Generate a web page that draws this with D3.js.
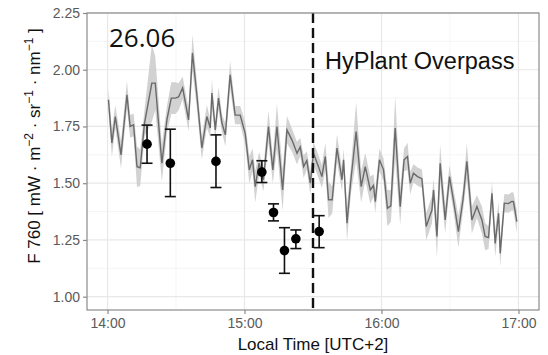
<!DOCTYPE html>
<html>
<head>
<meta charset="utf-8">
<script src="https://cdn.jsdelivr.net/npm/d3@7"></script>
<style>
  body { margin: 0; background: #fff; }
  svg { display: block; font-family: "Liberation Sans", Arial, sans-serif; }
</style>
</head>
<body>
<svg id="chart" width="548" height="355"></svg>
<script>
// minutes after 14:00 for the continuous F760 series
const minutes = [0.4, 1.9, 3.4, 5.9, 8.5, 9.9, 11.4, 12.9, 14.3, 16.2, 19.4, 20.9, 23.8, 26.0, 27.9, 29.7,
  31.1, 32.9, 35.5, 37.2, 39.2, 41.3, 43.5, 45.0, 45.7, 47.2, 48.6, 50.1, 51.6, 53.7, 55.9, 58.1,
  60.3, 62.1, 63.5, 64.7, 66.4, 68.3, 70.5, 72.4, 74.2, 76.7, 78.6, 80.8, 83.0, 84.4, 85.9, 87.3,
  88.8, 90.2, 92.4, 93.9, 95.4, 96.8, 98.4, 100.5, 102.7, 103.4, 104.9, 106.6, 108.9, 111.1, 112.9,
  115.1, 116.5, 117.3, 119.1, 120.9, 122.6, 124.1, 126.0, 128.2, 129.9, 131.4, 132.6, 134.0, 135.8,
  137.7, 139.6, 142.1, 142.8, 144.3, 145.7, 147.9, 149.8, 151.5, 153.7, 155.7, 157.4, 159.6, 161.8,
  164.0, 165.4, 166.9, 168.4, 169.8, 171.3, 172.0, 173.8, 175.6, 177.1, 177.8, 179.3];
const f760 = [1.868, 1.677, 1.794, 1.625, 1.89, 1.75, 1.757, 1.573, 1.568, 1.765, 1.941, 1.941, 1.588, 1.779, 1.875, 1.875,
  1.88, 1.92, 1.779, 2.074, 1.882, 1.655, 1.794, 1.743, 1.897, 1.735, 1.875, 1.765, 1.713, 1.978, 1.80, 1.80,
  1.72, 1.559, 1.603, 1.485, 1.588, 1.515, 1.75, 1.559, 1.75, 1.47, 1.735, 1.69, 1.632, 1.66, 1.573, 1.60,
  1.50, 1.632, 1.573, 1.529, 1.618, 1.427, 1.427, 1.655, 1.515, 1.603, 1.324, 1.515, 1.728, 1.485, 1.573,
  1.47, 1.49, 1.419, 1.603, 1.559, 1.39, 1.40, 1.743, 1.397, 1.603, 1.618, 1.50, 1.544, 1.529,
  1.52, 1.309, 1.382, 1.47, 1.265, 1.588, 1.338, 1.529, 1.427, 1.287, 1.427, 1.596, 1.338, 1.397,
  1.338, 1.265, 1.26, 1.456, 1.235, 1.368, 1.191, 1.412, 1.41, 1.42, 1.419, 1.331];
// half width of the grey band
const spread = [0.05, 0.06, 0.05, 0.06, 0.06, 0.05, 0.05, 0.09, 0.08, 0.06, 0.17, 0.12, 0.08, 0.06, 0.07, 0.07,
  0.06, 0.05, 0.05, 0.08, 0.06, 0.05, 0.05, 0.04, 0.06, 0.04, 0.05, 0.04, 0.05, 0.06, 0.04, 0.04,
  0.05, 0.06, 0.05, 0.07, 0.05, 0.05, 0.07, 0.06, 0.1, 0.09, 0.06, 0.05, 0.05, 0.04, 0.05, 0.04,
  0.05, 0.05, 0.05, 0.05, 0.06, 0.08, 0.06, 0.06, 0.05, 0.05, 0.08, 0.06, 0.13, 0.07, 0.06,
  0.06, 0.05, 0.05, 0.05, 0.05, 0.08, 0.07, 0.14, 0.08, 0.05, 0.06, 0.05, 0.04, 0.04,
  0.04, 0.06, 0.06, 0.05, 0.09, 0.08, 0.06, 0.05, 0.05, 0.07, 0.05, 0.08, 0.06, 0.05,
  0.06, 0.06, 0.05, 0.05, 0.06, 0.05, 0.06, 0.04, 0.04, 0.04, 0.04, 0.05];

// ground measurements with error bars
const ptMinutes = [17.3, 27.5, 47.5, 67.6, 72.7, 77.5, 82.5, 92.7];
const ptMean = [1.672, 1.588, 1.596, 1.549, 1.371, 1.203, 1.255, 1.287];
const ptLow = [1.588, 1.441, 1.481, 1.503, 1.334, 1.103, 1.212, 1.216];
const ptHigh = [1.756, 1.738, 1.713, 1.599, 1.409, 1.304, 1.294, 1.357];

const overpassMin = 90;
const yTicks = [1.00, 1.25, 1.50, 1.75, 2.00, 2.25];
const yMinor = [1.125, 1.375, 1.625, 1.875, 2.125];

const t0 = new Date(2019, 5, 26, 14, 0);
const toTime = m => new Date(t0.getTime() + m * 60000);
const xTicks = [0, 60, 120, 180].map(toTime);
const xMinor = [30, 90, 150].map(toTime);

const svg = d3.select('#chart');
const pLeft = 87, pRight = 539, pTop = 13, pBottom = 310;

const x = d3.scaleTime()
  .domain([toTime(-9), toTime(189)])
  .range([pLeft, pRight]);
const y = d3.scaleLinear()
  .domain([0.9413, 2.25])
  .range([pBottom, pTop]);

// grid
const grid = svg.append('g');
grid.selectAll('.vmin').data(xMinor).enter().append('line')
  .attr('x1', d => x(d)).attr('x2', d => x(d)).attr('y1', pTop).attr('y2', pBottom)
  .attr('stroke', '#f2f2f2').attr('stroke-width', 0.8);
grid.selectAll('.hmin').data(yMinor).enter().append('line')
  .attr('y1', d => y(d)).attr('y2', d => y(d)).attr('x1', pLeft).attr('x2', pRight)
  .attr('stroke', '#f2f2f2').attr('stroke-width', 0.8);
grid.selectAll('.vmaj').data(xTicks).enter().append('line')
  .attr('x1', d => x(d)).attr('x2', d => x(d)).attr('y1', pTop).attr('y2', pBottom)
  .attr('stroke', '#e8e8e8').attr('stroke-width', 1.2);
grid.selectAll('.hmaj').data(yTicks).enter().append('line')
  .attr('y1', d => y(d)).attr('y2', d => y(d)).attr('x1', pLeft).attr('x2', pRight)
  .attr('stroke', '#e8e8e8').attr('stroke-width', 1.2);

const series = minutes.map((m, i) => ({ t: toTime(m), v: f760[i], s: spread[i] }));

svg.append('path')
  .datum(series)
  .attr('fill', '#cacaca')
  .attr('opacity', 0.85)
  .attr('d', d3.area().x(d => x(d.t)).y0(d => y(d.v - d.s)).y1(d => y(d.v + d.s)));

svg.append('path')
  .datum(series)
  .attr('fill', 'none')
  .attr('stroke', '#6a6a6a')
  .attr('stroke-width', 1.4)
  .attr('d', d3.line().x(d => x(d.t)).y(d => y(d.v)));

// overpass line
svg.append('line')
  .attr('x1', x(toTime(overpassMin))).attr('x2', x(toTime(overpassMin)))
  .attr('y1', pTop).attr('y2', pBottom)
  .attr('stroke', '#111').attr('stroke-width', 2.4)
  .attr('stroke-dasharray', '10,5');

// points
const pts = ptMinutes.map((m, i) => ({ t: toTime(m), v: ptMean[i], lo: ptLow[i], hi: ptHigh[i] }));
const pg = svg.append('g').attr('stroke', '#111').attr('stroke-width', 1.6);
pg.selectAll('.eb').data(pts).enter().append('line')
  .attr('x1', d => x(d.t)).attr('x2', d => x(d.t))
  .attr('y1', d => y(d.lo)).attr('y2', d => y(d.hi));
pg.selectAll('.cl').data(pts).enter().append('line')
  .attr('x1', d => x(d.t) - 5.5).attr('x2', d => x(d.t) + 5.5)
  .attr('y1', d => y(d.lo)).attr('y2', d => y(d.lo));
pg.selectAll('.ch').data(pts).enter().append('line')
  .attr('x1', d => x(d.t) - 5.5).attr('x2', d => x(d.t) + 5.5)
  .attr('y1', d => y(d.hi)).attr('y2', d => y(d.hi));
svg.selectAll('.pt').data(pts).enter().append('circle')
  .attr('cx', d => x(d.t)).attr('cy', d => y(d.v)).attr('r', 4.8)
  .attr('fill', '#000');

// panel border
svg.append('rect')
  .attr('x', pLeft).attr('y', pTop).attr('width', pRight - pLeft).attr('height', pBottom - pTop)
  .attr('fill', 'none').attr('stroke', '#8a8a8a').attr('stroke-width', 1.2);

// axes
const xAxis = svg.append('g')
  .attr('transform', `translate(0,${pBottom})`)
  .call(d3.axisBottom(x).tickValues(xTicks).tickFormat(d3.timeFormat('%H:%M')).tickSize(4).tickPadding(4));
const yAxis = svg.append('g')
  .attr('transform', `translate(${pLeft},0)`)
  .call(d3.axisLeft(y).tickValues(yTicks).tickFormat(d3.format('.2f')).tickSize(4).tickPadding(3));
[xAxis, yAxis].forEach(a => {
  a.select('.domain').remove();
  a.selectAll('line').attr('stroke', '#8a8a8a').attr('stroke-width', 1.2);
  a.selectAll('text').attr('fill', '#5a5a5a').style('font-size', '14px')
    .style('font-family', '"Liberation Sans", Arial, sans-serif');
});

// titles
svg.append('text')
  .attr('x', (pLeft + pRight) / 2).attr('y', 350)
  .attr('text-anchor', 'middle')
  .style('font-size', '17px').attr('fill', '#111')
  .text('Local Time [UTC+2]');

const yt = svg.append('text')
  .attr('transform', 'translate(39.5,146) rotate(-90)')
  .attr('text-anchor', 'middle')
  .style('font-size', '17px').attr('fill', '#111');
yt.append('tspan').text('F 760 [ mW \u00b7 m');
yt.append('tspan').attr('dy', -7).style('font-size', '12px').text('\u22122');
yt.append('tspan').attr('dy', 7).text(' \u00b7 sr');
yt.append('tspan').attr('dy', -7).style('font-size', '12px').text('\u22121');
yt.append('tspan').attr('dy', 7).text(' \u00b7 nm');
yt.append('tspan').attr('dy', -7).style('font-size', '12px').text('\u22121');
yt.append('tspan').attr('dy', 7).text(' ]');

svg.append('text')
  .attr('x', 109).attr('y', 46.5)
  .style('font-family', '"Open Sans", sans-serif')
  .style('font-size', '26px').attr('fill', '#111')
  .text('26.06');

svg.append('text')
  .attr('x', 325).attr('y', 68.5)
  .style('font-size', '23.5px').attr('fill', '#111')
  .text('HyPlant Overpass');
</script>
</body>
</html>
